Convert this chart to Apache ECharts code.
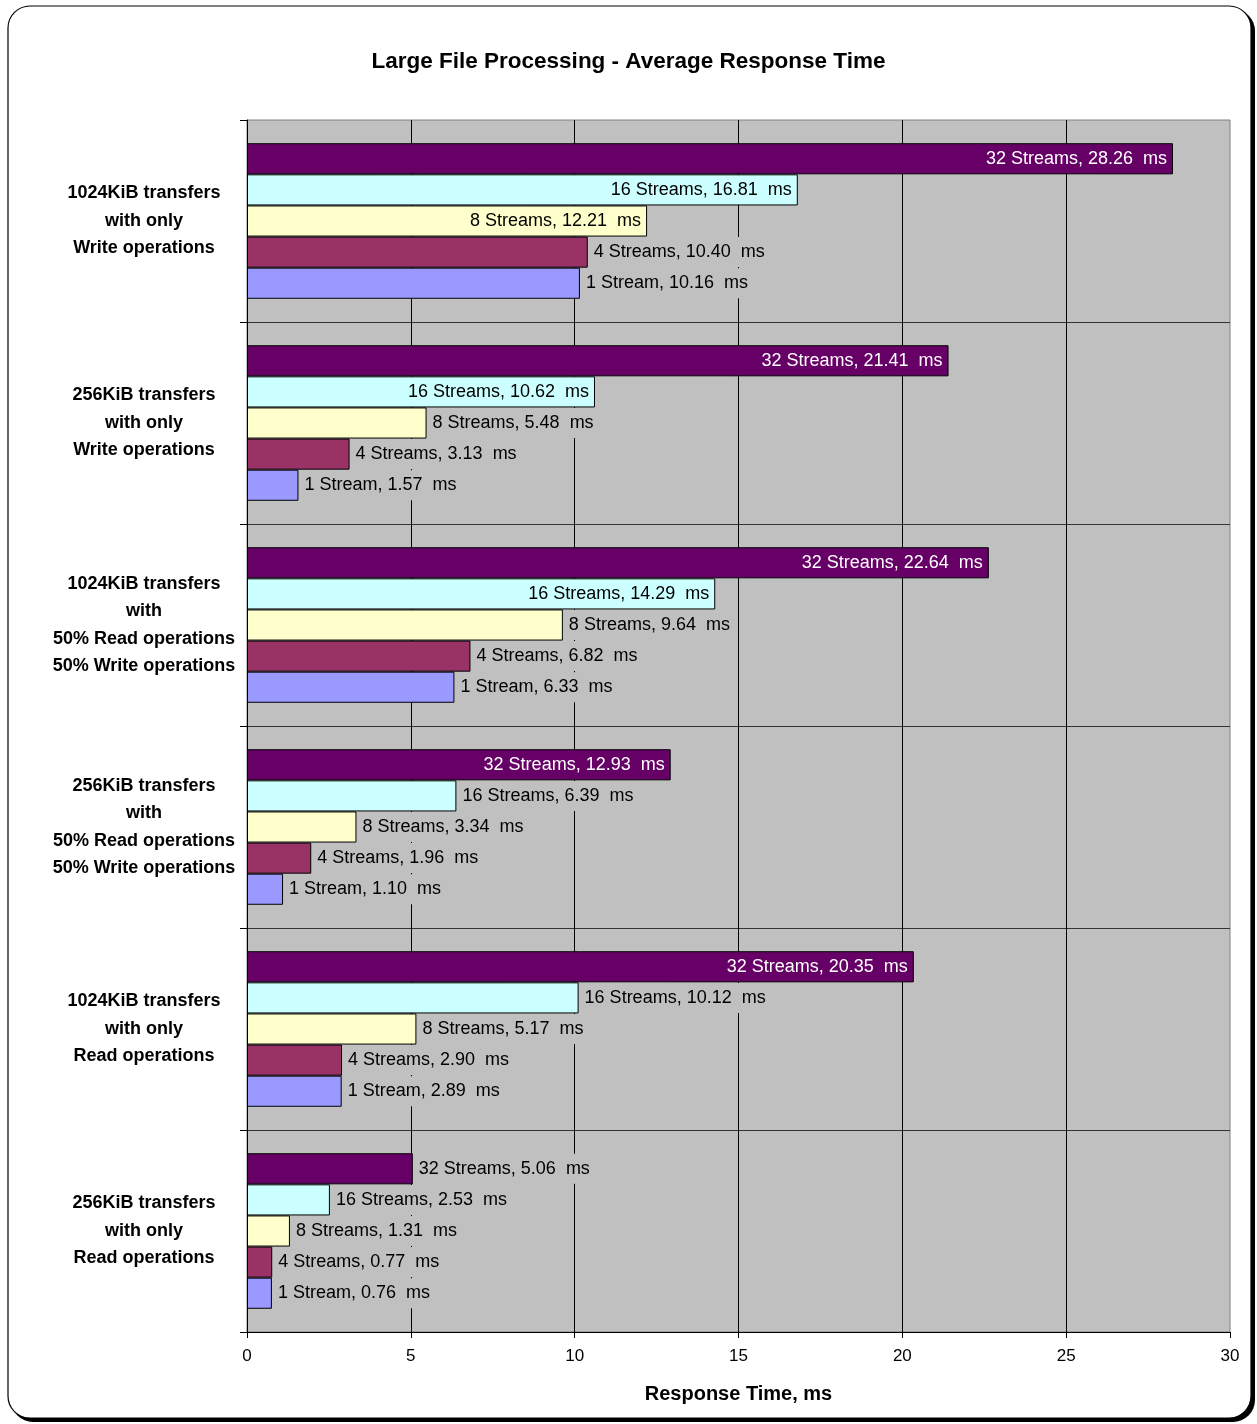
<!DOCTYPE html>
<html>
<head>
<meta charset="utf-8">
<script src="https://cdn.jsdelivr.net/npm/echarts@6/dist/echarts.min.js"></script>
<style>
html,body{margin:0;padding:0;background:#fff;}
#chart{width:1257px;height:1424px;}
</style>
</head>
<body>
<div id="chart"></div>
<script>
var categories = [
  "1024KiB transfers\nwith only\nWrite operations",
  "256KiB transfers\nwith only\nWrite operations",
  "1024KiB transfers\nwith\n50% Read operations\n50% Write operations",
  "256KiB transfers\nwith\n50% Read operations\n50% Write operations",
  "1024KiB transfers\nwith only\nRead operations",
  "256KiB transfers\nwith only\nRead operations"
];
var seriesNames = ["32 Streams", "16 Streams", "8 Streams", "4 Streams", "1 Stream"];
var streams32 = [28.26, 21.41, 22.64, 12.93, 20.35, 5.06];
var streams16 = [16.81, 10.62, 14.29, 6.39, 10.12, 2.53];
var streams8  = [12.21, 5.48, 9.64, 3.34, 5.17, 1.31];
var streams4  = [10.40, 3.13, 6.82, 1.96, 2.90, 0.77];
var stream1   = [10.16, 1.57, 6.33, 1.10, 2.89, 0.76];
var xTicks = [0, 5, 10, 15, 20, 25, 30];

var seriesValues = [streams32, streams16, streams8, streams4, stream1];
var colors = ["#660066", "#CCFFFF", "#FFFFCC", "#993366", "#9999FF"];
var insideTextColors = ["#ffffff", "#000000", "#000000", "#000000", "#000000"];
var INSIDE_THRESHOLD = 10.5;

var FONT = "Liberation Sans, Arial, sans-serif";

function buildData(vals, idx) {
  return vals.map(function (v) {
    if (v > INSIDE_THRESHOLD) {
      return {
        value: v,
        label: {
          position: 'insideRight',
          distance: 6,
          color: insideTextColors[idx],
          backgroundColor: 'transparent',
          padding: 0
        }
      };
    }
    return { value: v };
  });
}

var series = seriesNames.map(function (name, i) {
  return {
    name: name,
    type: 'bar',
    barGap: '0%',
    barCategoryGap: '23%',
    data: buildData(seriesValues[i], i),
    itemStyle: { color: colors[i], borderColor: '#000', borderWidth: 1 },
    label: {
      show: true,
      position: 'right',
      distance: 4,
      color: '#000',
      fontFamily: FONT,
      fontSize: 18,
      backgroundColor: '#c0c0c0',
      padding: [6, 2],
      formatter: function (p) { return p.seriesName + ', ' + p.value.toFixed(2) + '  ms'; }
    },
    emphasis: { disabled: true },
    animation: false
  };
});

var chart = echarts.init(document.getElementById('chart'), null, { renderer: 'canvas' });
chart.setOption({
  animation: false,
  graphic: [
    { type: 'rect', z: -100, shape: { x: 11, y: 9, width: 1244, height: 1413, r: 22 }, style: { fill: '#000' } },
    { type: 'rect', z: -99, shape: { x: 8, y: 6, width: 1243, height: 1412, r: 22 }, style: { fill: '#fff', stroke: '#000', lineWidth: 1.2 } }
  ],
  title: {
    text: 'Large File Processing - Average Response Time',
    left: 'center',
    top: 45,
    textStyle: { fontFamily: FONT, fontSize: 22.5, fontWeight: 'bold', color: '#000' }
  },
  grid: {
    left: 247, right: 27, top: 120, bottom: 92,
    show: true, backgroundColor: '#c0c0c0', borderColor: '#808080', borderWidth: 1,
    containLabel: false
  },
  xAxis: {
    type: 'value',
    min: 0, max: 30, interval: 5,
    axisLine: { show: true, lineStyle: { color: '#000', width: 1 } },
    axisTick: { show: true, length: 6, lineStyle: { color: '#000' } },
    axisLabel: {
      fontFamily: FONT, fontSize: 17, color: '#000', margin: 16,
      formatter: function (v) { return xTicks.indexOf(v) >= 0 ? String(v) : ''; }
    },
    splitLine: { show: true, showMinLine: false, showMaxLine: false, lineStyle: { color: '#000', width: 1 } },
    name: 'Response Time, ms',
    nameLocation: 'middle',
    nameGap: 52,
    nameTextStyle: { fontFamily: FONT, fontSize: 20, fontWeight: 'bold', color: '#000' }
  },
  yAxis: {
    type: 'category',
    inverse: true,
    data: categories,
    axisLine: { show: true, lineStyle: { color: '#000', width: 1 } },
    axisTick: { show: true, length: 7, lineStyle: { color: '#000' } },
    axisLabel: {
      fontFamily: FONT, fontSize: 18, fontWeight: 'bold', color: '#000',
      align: 'center', margin: 103, lineHeight: 27.5
    },
    splitLine: { show: true, showMinLine: false, showMaxLine: false, lineStyle: { color: '#333', width: 1 } }
  },
  series: series
});
</script>
</body>
</html>
